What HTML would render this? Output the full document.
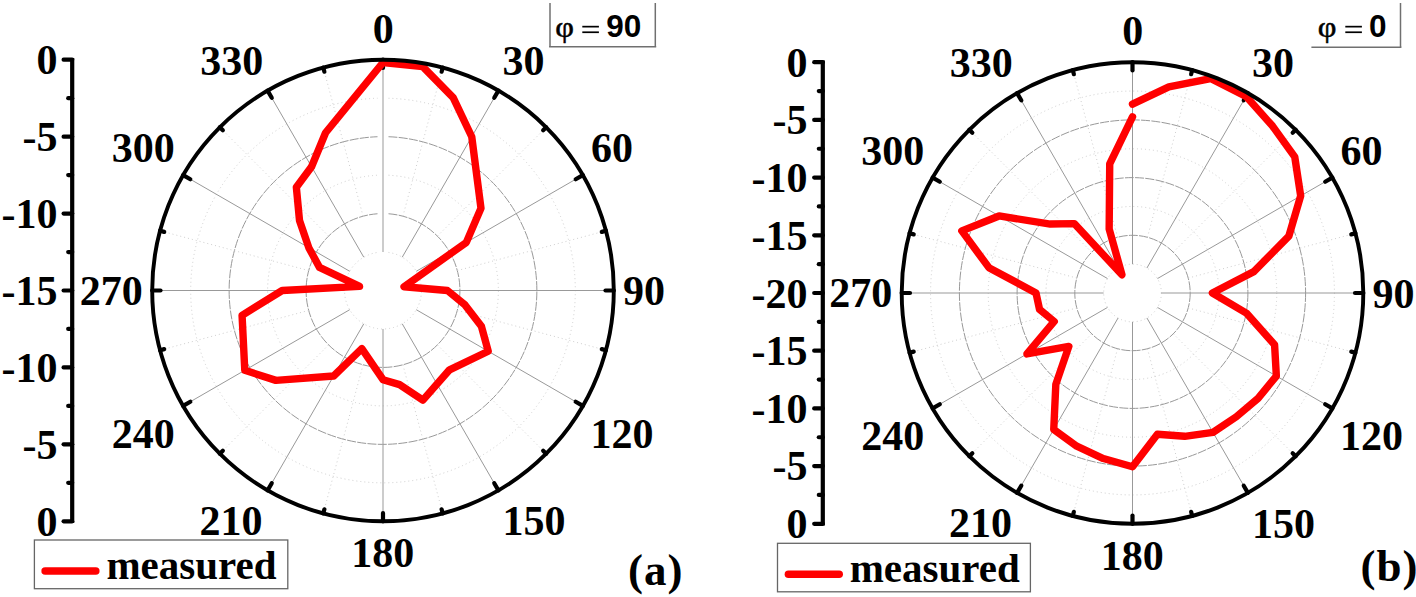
<!DOCTYPE html>
<html><head><meta charset="utf-8"><style>
html,body{margin:0;padding:0;background:#fff;overflow:hidden;width:1416px;height:597px;}
svg{display:block;}
text{font-family:'Liberation Serif',serif;font-weight:bold;fill:#000;}
</style></head><body>
<svg width="1416" height="597" viewBox="0 0 1416 597">
<path d="M388.48,252.43 A38.47,38.47 0 1 1 377.52,252.43" fill="none" stroke="#cfcfcf" stroke-width="1" stroke-dasharray="1 3"/>
<path d="M388.50,175.23 A115.40,115.40 0 1 1 377.50,175.23" fill="none" stroke="#cfcfcf" stroke-width="1" stroke-dasharray="1 3"/>
<path d="M388.50,98.25 A192.33,192.33 0 1 1 377.50,98.25" fill="none" stroke="#cfcfcf" stroke-width="1" stroke-dasharray="1 3"/>
<path d="M388.50,213.76 A76.93,76.93 0 1 1 377.50,213.76" fill="none" stroke="#999" stroke-width="1" stroke-dasharray="9 1.3"/>
<path d="M388.50,136.73 A153.87,153.87 0 1 1 377.50,136.73" fill="none" stroke="#999" stroke-width="1" stroke-dasharray="9 1.3"/>
<line x1="383.00" y1="252.03" x2="383.00" y2="59.70" stroke="#999" stroke-width="1"/>
<line x1="402.91" y1="216.19" x2="442.74" y2="67.56" stroke="#cfcfcf" stroke-width="1" stroke-dasharray="1 3"/>
<line x1="402.23" y1="257.19" x2="498.40" y2="90.62" stroke="#999" stroke-width="1"/>
<line x1="437.40" y1="236.10" x2="546.20" y2="127.30" stroke="#cfcfcf" stroke-width="1" stroke-dasharray="1 3"/>
<line x1="416.31" y1="271.27" x2="582.88" y2="175.10" stroke="#999" stroke-width="1"/>
<line x1="457.31" y1="270.59" x2="605.94" y2="230.76" stroke="#cfcfcf" stroke-width="1" stroke-dasharray="1 3"/>
<line x1="421.47" y1="290.50" x2="613.80" y2="290.50" stroke="#999" stroke-width="1"/>
<line x1="457.31" y1="310.41" x2="605.94" y2="350.24" stroke="#cfcfcf" stroke-width="1" stroke-dasharray="1 3"/>
<line x1="416.31" y1="309.73" x2="582.88" y2="405.90" stroke="#999" stroke-width="1"/>
<line x1="437.40" y1="344.90" x2="546.20" y2="453.70" stroke="#cfcfcf" stroke-width="1" stroke-dasharray="1 3"/>
<line x1="402.23" y1="323.81" x2="498.40" y2="490.38" stroke="#999" stroke-width="1"/>
<line x1="402.91" y1="364.81" x2="442.74" y2="513.44" stroke="#cfcfcf" stroke-width="1" stroke-dasharray="1 3"/>
<line x1="383.00" y1="328.97" x2="383.00" y2="521.30" stroke="#999" stroke-width="1"/>
<line x1="363.09" y1="364.81" x2="323.26" y2="513.44" stroke="#cfcfcf" stroke-width="1" stroke-dasharray="1 3"/>
<line x1="363.77" y1="323.81" x2="267.60" y2="490.38" stroke="#999" stroke-width="1"/>
<line x1="328.60" y1="344.90" x2="219.80" y2="453.70" stroke="#cfcfcf" stroke-width="1" stroke-dasharray="1 3"/>
<line x1="349.69" y1="309.73" x2="183.12" y2="405.90" stroke="#999" stroke-width="1"/>
<line x1="308.69" y1="310.41" x2="160.06" y2="350.24" stroke="#cfcfcf" stroke-width="1" stroke-dasharray="1 3"/>
<line x1="344.53" y1="290.50" x2="152.20" y2="290.50" stroke="#999" stroke-width="1"/>
<line x1="308.69" y1="270.59" x2="160.06" y2="230.76" stroke="#cfcfcf" stroke-width="1" stroke-dasharray="1 3"/>
<line x1="349.69" y1="271.27" x2="183.12" y2="175.10" stroke="#999" stroke-width="1"/>
<line x1="328.60" y1="236.10" x2="219.80" y2="127.30" stroke="#cfcfcf" stroke-width="1" stroke-dasharray="1 3"/>
<line x1="363.77" y1="257.19" x2="267.60" y2="90.62" stroke="#999" stroke-width="1"/>
<line x1="363.09" y1="216.19" x2="323.26" y2="67.56" stroke="#cfcfcf" stroke-width="1" stroke-dasharray="1 3"/>
<line x1="383.00" y1="59.70" x2="383.00" y2="68.00" stroke="#000" stroke-width="4.2" stroke-linecap="round"/>
<line x1="442.74" y1="67.56" x2="441.62" y2="71.72" stroke="#000" stroke-width="4.2" stroke-linecap="round"/>
<line x1="498.40" y1="90.62" x2="494.25" y2="97.81" stroke="#000" stroke-width="4.2" stroke-linecap="round"/>
<line x1="546.20" y1="127.30" x2="543.16" y2="130.34" stroke="#000" stroke-width="4.2" stroke-linecap="round"/>
<line x1="582.88" y1="175.10" x2="575.69" y2="179.25" stroke="#000" stroke-width="4.2" stroke-linecap="round"/>
<line x1="605.94" y1="230.76" x2="601.78" y2="231.88" stroke="#000" stroke-width="4.2" stroke-linecap="round"/>
<line x1="613.80" y1="290.50" x2="605.50" y2="290.50" stroke="#000" stroke-width="4.2" stroke-linecap="round"/>
<line x1="605.94" y1="350.24" x2="601.78" y2="349.12" stroke="#000" stroke-width="4.2" stroke-linecap="round"/>
<line x1="582.88" y1="405.90" x2="575.69" y2="401.75" stroke="#000" stroke-width="4.2" stroke-linecap="round"/>
<line x1="546.20" y1="453.70" x2="543.16" y2="450.66" stroke="#000" stroke-width="4.2" stroke-linecap="round"/>
<line x1="498.40" y1="490.38" x2="494.25" y2="483.19" stroke="#000" stroke-width="4.2" stroke-linecap="round"/>
<line x1="442.74" y1="513.44" x2="441.62" y2="509.28" stroke="#000" stroke-width="4.2" stroke-linecap="round"/>
<line x1="383.00" y1="521.30" x2="383.00" y2="513.00" stroke="#000" stroke-width="4.2" stroke-linecap="round"/>
<line x1="323.26" y1="513.44" x2="324.38" y2="509.28" stroke="#000" stroke-width="4.2" stroke-linecap="round"/>
<line x1="267.60" y1="490.38" x2="271.75" y2="483.19" stroke="#000" stroke-width="4.2" stroke-linecap="round"/>
<line x1="219.80" y1="453.70" x2="222.84" y2="450.66" stroke="#000" stroke-width="4.2" stroke-linecap="round"/>
<line x1="183.12" y1="405.90" x2="190.31" y2="401.75" stroke="#000" stroke-width="4.2" stroke-linecap="round"/>
<line x1="160.06" y1="350.24" x2="164.22" y2="349.12" stroke="#000" stroke-width="4.2" stroke-linecap="round"/>
<line x1="152.20" y1="290.50" x2="160.50" y2="290.50" stroke="#000" stroke-width="4.2" stroke-linecap="round"/>
<line x1="160.06" y1="230.76" x2="164.22" y2="231.88" stroke="#000" stroke-width="4.2" stroke-linecap="round"/>
<line x1="183.12" y1="175.10" x2="190.31" y2="179.25" stroke="#000" stroke-width="4.2" stroke-linecap="round"/>
<line x1="219.80" y1="127.30" x2="222.84" y2="130.34" stroke="#000" stroke-width="4.2" stroke-linecap="round"/>
<line x1="267.60" y1="90.62" x2="271.75" y2="97.81" stroke="#000" stroke-width="4.2" stroke-linecap="round"/>
<line x1="323.26" y1="67.56" x2="324.38" y2="71.72" stroke="#000" stroke-width="4.2" stroke-linecap="round"/>
<polyline points="383.00,62.50 422.50,66.46 453.18,97.68 471.75,136.78 480.98,208.29 466.31,242.40 404.07,286.78 447.40,290.50 465.03,304.96 481.39,326.31 488.22,351.25 449.53,369.79 422.91,400.16 399.60,384.65 383.00,379.70 361.83,348.67 333.65,375.98 275.91,380.36 244.78,370.30 242.07,315.35 282.20,290.50 359.56,286.37 319.48,267.38 308.78,247.65 299.50,220.44 296.35,187.24 311.55,166.74 325.57,132.73 383.00,62.50" fill="none" stroke="#f00" stroke-width="7.4" stroke-linejoin="round" stroke-linecap="round"/>
<circle cx="383.0" cy="290.5" r="230.8" fill="none" stroke="#000" stroke-width="3.9"/>
<text x="372.80" y="42.89" font-size="42" >0</text>
<text x="502.41" y="74.99" font-size="42" >30</text>
<text x="590.93" y="162.49" font-size="42" >60</text>
<text x="623.03" y="305.19" font-size="42" >90</text>
<text x="590.52" y="447.89" font-size="42" >120</text>
<text x="502.52" y="535.39" font-size="42" >150</text>
<text x="351.22" y="567.49" font-size="42" >180</text>
<text x="199.42" y="534.89" font-size="42" >210</text>
<text x="111.77" y="447.89" font-size="42" >240</text>
<text x="79.72" y="304.99" font-size="42" >270</text>
<text x="111.66" y="162.49" font-size="42" >300</text>
<text x="200.16" y="74.99" font-size="42" >330</text>
<circle cx="1132.5" cy="293.0" r="28.85" fill="none" stroke="#cfcfcf" stroke-width="1" stroke-dasharray="1 3"/>
<circle cx="1132.5" cy="293.0" r="86.55" fill="none" stroke="#cfcfcf" stroke-width="1" stroke-dasharray="1 3"/>
<circle cx="1132.5" cy="293.0" r="144.25" fill="none" stroke="#cfcfcf" stroke-width="1" stroke-dasharray="1 3"/>
<circle cx="1132.5" cy="293.0" r="201.95" fill="none" stroke="#cfcfcf" stroke-width="1" stroke-dasharray="1 3"/>
<circle cx="1132.5" cy="293.0" r="57.70" fill="none" stroke="#999" stroke-width="1" stroke-dasharray="9 1.3"/>
<circle cx="1132.5" cy="293.0" r="115.40" fill="none" stroke="#999" stroke-width="1" stroke-dasharray="9 1.3"/>
<circle cx="1132.5" cy="293.0" r="173.10" fill="none" stroke="#999" stroke-width="1" stroke-dasharray="9 1.3"/>
<line x1="1132.50" y1="264.15" x2="1132.50" y2="62.20" stroke="#999" stroke-width="1"/>
<line x1="1147.43" y1="237.27" x2="1192.24" y2="70.06" stroke="#cfcfcf" stroke-width="1" stroke-dasharray="1 3"/>
<line x1="1146.92" y1="268.02" x2="1247.90" y2="93.12" stroke="#999" stroke-width="1"/>
<line x1="1173.30" y1="252.20" x2="1295.70" y2="129.80" stroke="#cfcfcf" stroke-width="1" stroke-dasharray="1 3"/>
<line x1="1157.48" y1="278.57" x2="1332.38" y2="177.60" stroke="#999" stroke-width="1"/>
<line x1="1188.23" y1="278.07" x2="1355.44" y2="233.26" stroke="#cfcfcf" stroke-width="1" stroke-dasharray="1 3"/>
<line x1="1161.35" y1="293.00" x2="1363.30" y2="293.00" stroke="#999" stroke-width="1"/>
<line x1="1188.23" y1="307.93" x2="1355.44" y2="352.74" stroke="#cfcfcf" stroke-width="1" stroke-dasharray="1 3"/>
<line x1="1157.48" y1="307.43" x2="1332.38" y2="408.40" stroke="#999" stroke-width="1"/>
<line x1="1173.30" y1="333.80" x2="1295.70" y2="456.20" stroke="#cfcfcf" stroke-width="1" stroke-dasharray="1 3"/>
<line x1="1146.92" y1="317.98" x2="1247.90" y2="492.88" stroke="#999" stroke-width="1"/>
<line x1="1147.43" y1="348.73" x2="1192.24" y2="515.94" stroke="#cfcfcf" stroke-width="1" stroke-dasharray="1 3"/>
<line x1="1132.50" y1="321.85" x2="1132.50" y2="523.80" stroke="#999" stroke-width="1"/>
<line x1="1117.57" y1="348.73" x2="1072.76" y2="515.94" stroke="#cfcfcf" stroke-width="1" stroke-dasharray="1 3"/>
<line x1="1118.08" y1="317.98" x2="1017.10" y2="492.88" stroke="#999" stroke-width="1"/>
<line x1="1091.70" y1="333.80" x2="969.30" y2="456.20" stroke="#cfcfcf" stroke-width="1" stroke-dasharray="1 3"/>
<line x1="1107.52" y1="307.43" x2="932.62" y2="408.40" stroke="#999" stroke-width="1"/>
<line x1="1076.77" y1="307.93" x2="909.56" y2="352.74" stroke="#cfcfcf" stroke-width="1" stroke-dasharray="1 3"/>
<line x1="1103.65" y1="293.00" x2="901.70" y2="293.00" stroke="#999" stroke-width="1"/>
<line x1="1076.77" y1="278.07" x2="909.56" y2="233.26" stroke="#cfcfcf" stroke-width="1" stroke-dasharray="1 3"/>
<line x1="1107.52" y1="278.57" x2="932.62" y2="177.60" stroke="#999" stroke-width="1"/>
<line x1="1091.70" y1="252.20" x2="969.30" y2="129.80" stroke="#cfcfcf" stroke-width="1" stroke-dasharray="1 3"/>
<line x1="1118.08" y1="268.02" x2="1017.10" y2="93.12" stroke="#999" stroke-width="1"/>
<line x1="1117.57" y1="237.27" x2="1072.76" y2="70.06" stroke="#cfcfcf" stroke-width="1" stroke-dasharray="1 3"/>
<line x1="1132.50" y1="62.20" x2="1132.50" y2="70.50" stroke="#000" stroke-width="4.2" stroke-linecap="round"/>
<line x1="1192.24" y1="70.06" x2="1191.12" y2="74.22" stroke="#000" stroke-width="4.2" stroke-linecap="round"/>
<line x1="1247.90" y1="93.12" x2="1243.75" y2="100.31" stroke="#000" stroke-width="4.2" stroke-linecap="round"/>
<line x1="1295.70" y1="129.80" x2="1292.66" y2="132.84" stroke="#000" stroke-width="4.2" stroke-linecap="round"/>
<line x1="1332.38" y1="177.60" x2="1325.19" y2="181.75" stroke="#000" stroke-width="4.2" stroke-linecap="round"/>
<line x1="1355.44" y1="233.26" x2="1351.28" y2="234.38" stroke="#000" stroke-width="4.2" stroke-linecap="round"/>
<line x1="1363.30" y1="293.00" x2="1355.00" y2="293.00" stroke="#000" stroke-width="4.2" stroke-linecap="round"/>
<line x1="1355.44" y1="352.74" x2="1351.28" y2="351.62" stroke="#000" stroke-width="4.2" stroke-linecap="round"/>
<line x1="1332.38" y1="408.40" x2="1325.19" y2="404.25" stroke="#000" stroke-width="4.2" stroke-linecap="round"/>
<line x1="1295.70" y1="456.20" x2="1292.66" y2="453.16" stroke="#000" stroke-width="4.2" stroke-linecap="round"/>
<line x1="1247.90" y1="492.88" x2="1243.75" y2="485.69" stroke="#000" stroke-width="4.2" stroke-linecap="round"/>
<line x1="1192.24" y1="515.94" x2="1191.12" y2="511.78" stroke="#000" stroke-width="4.2" stroke-linecap="round"/>
<line x1="1132.50" y1="523.80" x2="1132.50" y2="515.50" stroke="#000" stroke-width="4.2" stroke-linecap="round"/>
<line x1="1072.76" y1="515.94" x2="1073.88" y2="511.78" stroke="#000" stroke-width="4.2" stroke-linecap="round"/>
<line x1="1017.10" y1="492.88" x2="1021.25" y2="485.69" stroke="#000" stroke-width="4.2" stroke-linecap="round"/>
<line x1="969.30" y1="456.20" x2="972.34" y2="453.16" stroke="#000" stroke-width="4.2" stroke-linecap="round"/>
<line x1="932.62" y1="408.40" x2="939.81" y2="404.25" stroke="#000" stroke-width="4.2" stroke-linecap="round"/>
<line x1="909.56" y1="352.74" x2="913.72" y2="351.62" stroke="#000" stroke-width="4.2" stroke-linecap="round"/>
<line x1="901.70" y1="293.00" x2="910.00" y2="293.00" stroke="#000" stroke-width="4.2" stroke-linecap="round"/>
<line x1="909.56" y1="233.26" x2="913.72" y2="234.38" stroke="#000" stroke-width="4.2" stroke-linecap="round"/>
<line x1="932.62" y1="177.60" x2="939.81" y2="181.75" stroke="#000" stroke-width="4.2" stroke-linecap="round"/>
<line x1="969.30" y1="129.80" x2="972.34" y2="132.84" stroke="#000" stroke-width="4.2" stroke-linecap="round"/>
<line x1="1017.10" y1="93.12" x2="1021.25" y2="100.31" stroke="#000" stroke-width="4.2" stroke-linecap="round"/>
<line x1="1072.76" y1="70.06" x2="1073.88" y2="74.22" stroke="#000" stroke-width="4.2" stroke-linecap="round"/>
<polyline points="1132.50,104.10 1168.84,86.88 1210.55,78.56 1246.05,96.33 1272.56,126.08 1294.75,156.86 1300.68,195.90 1288.86,236.09 1253.83,271.61 1212.40,293.00 1246.34,313.07 1274.58,344.71 1276.35,376.05 1258.05,398.35 1236.31,416.72 1213.00,432.43 1184.66,436.30 1157.40,434.22 1132.50,466.80 1103.31,458.55 1076.75,446.17 1053.75,429.40 1055.82,384.39 1068.84,346.42 1026.93,353.95 1054.22,321.49 1039.53,309.39 1036.00,293.00 988.92,267.68 961.85,230.89 999.05,215.95 1050.30,224.03 1074.26,223.60 1121.95,274.73 1109.17,228.91 1109.72,163.79 1132.50,116.90" fill="none" stroke="#f00" stroke-width="7.4" stroke-linejoin="round" stroke-linecap="round"/>
<circle cx="1132.5" cy="293.0" r="230.8" fill="none" stroke="#000" stroke-width="3.9"/>
<text x="1122.30" y="45.39" font-size="42" >0</text>
<text x="1251.91" y="77.49" font-size="42" >30</text>
<text x="1340.43" y="164.99" font-size="42" >60</text>
<text x="1372.53" y="307.69" font-size="42" >90</text>
<text x="1340.02" y="450.39" font-size="42" >120</text>
<text x="1252.02" y="537.89" font-size="42" >150</text>
<text x="1100.72" y="569.99" font-size="42" >180</text>
<text x="948.92" y="537.39" font-size="42" >210</text>
<text x="861.27" y="450.39" font-size="42" >240</text>
<text x="829.22" y="307.49" font-size="42" >270</text>
<text x="861.16" y="164.99" font-size="42" >300</text>
<text x="949.66" y="77.49" font-size="42" >330</text>
<line x1="72.2" y1="57.90" x2="72.2" y2="523.10" stroke="#000" stroke-width="4.2"/>
<line x1="72.2" y1="59.70" x2="63.60" y2="59.70" stroke="#000" stroke-width="4.2" stroke-linecap="round"/>
<line x1="72.2" y1="98.17" x2="68.20" y2="98.17" stroke="#000" stroke-width="4.2" stroke-linecap="round"/>
<text x="36.60" y="74.26" font-size="42">0</text>
<line x1="72.2" y1="136.63" x2="63.60" y2="136.63" stroke="#000" stroke-width="4.2" stroke-linecap="round"/>
<line x1="72.2" y1="175.10" x2="68.20" y2="175.10" stroke="#000" stroke-width="4.2" stroke-linecap="round"/>
<text x="22.55" y="150.98" font-size="42">-5</text>
<line x1="72.2" y1="213.57" x2="63.60" y2="213.57" stroke="#000" stroke-width="4.2" stroke-linecap="round"/>
<line x1="72.2" y1="252.03" x2="68.20" y2="252.03" stroke="#000" stroke-width="4.2" stroke-linecap="round"/>
<text x="1.61" y="228.13" font-size="42">-10</text>
<line x1="72.2" y1="290.50" x2="63.60" y2="290.50" stroke="#000" stroke-width="4.2" stroke-linecap="round"/>
<line x1="72.2" y1="328.97" x2="68.20" y2="328.97" stroke="#000" stroke-width="4.2" stroke-linecap="round"/>
<text x="1.55" y="304.96" font-size="42">-15</text>
<line x1="72.2" y1="367.43" x2="63.60" y2="367.43" stroke="#000" stroke-width="4.2" stroke-linecap="round"/>
<line x1="72.2" y1="405.90" x2="68.20" y2="405.90" stroke="#000" stroke-width="4.2" stroke-linecap="round"/>
<text x="1.61" y="381.99" font-size="42">-10</text>
<line x1="72.2" y1="444.37" x2="63.60" y2="444.37" stroke="#000" stroke-width="4.2" stroke-linecap="round"/>
<line x1="72.2" y1="482.83" x2="68.20" y2="482.83" stroke="#000" stroke-width="4.2" stroke-linecap="round"/>
<text x="22.55" y="458.71" font-size="42">-5</text>
<line x1="72.2" y1="521.30" x2="63.60" y2="521.30" stroke="#000" stroke-width="4.2" stroke-linecap="round"/>
<text x="36.60" y="535.86" font-size="42">0</text>
<line x1="822.8" y1="60.40" x2="822.8" y2="525.60" stroke="#000" stroke-width="4.2"/>
<line x1="822.8" y1="62.20" x2="814.20" y2="62.20" stroke="#000" stroke-width="4.2" stroke-linecap="round"/>
<line x1="822.8" y1="91.05" x2="818.80" y2="91.05" stroke="#000" stroke-width="4.2" stroke-linecap="round"/>
<text x="786.60" y="76.76" font-size="42">0</text>
<line x1="822.8" y1="119.90" x2="814.20" y2="119.90" stroke="#000" stroke-width="4.2" stroke-linecap="round"/>
<line x1="822.8" y1="148.75" x2="818.80" y2="148.75" stroke="#000" stroke-width="4.2" stroke-linecap="round"/>
<text x="772.55" y="134.25" font-size="42">-5</text>
<line x1="822.8" y1="177.60" x2="814.20" y2="177.60" stroke="#000" stroke-width="4.2" stroke-linecap="round"/>
<line x1="822.8" y1="206.45" x2="818.80" y2="206.45" stroke="#000" stroke-width="4.2" stroke-linecap="round"/>
<text x="751.61" y="192.16" font-size="42">-10</text>
<line x1="822.8" y1="235.30" x2="814.20" y2="235.30" stroke="#000" stroke-width="4.2" stroke-linecap="round"/>
<line x1="822.8" y1="264.15" x2="818.80" y2="264.15" stroke="#000" stroke-width="4.2" stroke-linecap="round"/>
<text x="751.55" y="249.76" font-size="42">-15</text>
<line x1="822.8" y1="293.00" x2="814.20" y2="293.00" stroke="#000" stroke-width="4.2" stroke-linecap="round"/>
<line x1="822.8" y1="321.85" x2="818.80" y2="321.85" stroke="#000" stroke-width="4.2" stroke-linecap="round"/>
<text x="751.61" y="307.56" font-size="42">-20</text>
<line x1="822.8" y1="350.70" x2="814.20" y2="350.70" stroke="#000" stroke-width="4.2" stroke-linecap="round"/>
<line x1="822.8" y1="379.55" x2="818.80" y2="379.55" stroke="#000" stroke-width="4.2" stroke-linecap="round"/>
<text x="751.55" y="365.16" font-size="42">-15</text>
<line x1="822.8" y1="408.40" x2="814.20" y2="408.40" stroke="#000" stroke-width="4.2" stroke-linecap="round"/>
<line x1="822.8" y1="437.25" x2="818.80" y2="437.25" stroke="#000" stroke-width="4.2" stroke-linecap="round"/>
<text x="751.61" y="422.96" font-size="42">-10</text>
<line x1="822.8" y1="466.10" x2="814.20" y2="466.10" stroke="#000" stroke-width="4.2" stroke-linecap="round"/>
<line x1="822.8" y1="494.95" x2="818.80" y2="494.95" stroke="#000" stroke-width="4.2" stroke-linecap="round"/>
<text x="772.55" y="480.45" font-size="42">-5</text>
<line x1="822.8" y1="523.80" x2="814.20" y2="523.80" stroke="#000" stroke-width="4.2" stroke-linecap="round"/>
<text x="786.60" y="538.36" font-size="42">0</text>
<rect x="34.4" y="540" width="253.4" height="48.700000000000045" fill="#fff" stroke="#666" stroke-width="1.3"/>
<line x1="45.1" y1="571" x2="95.8" y2="571" stroke="#f00" stroke-width="7.5" stroke-linecap="round"/>
<text x="106.40" y="578.6" font-size="41">measured</text>
<rect x="777.5" y="543.3" width="252.9000000000001" height="48.5" fill="#fff" stroke="#666" stroke-width="1.3"/>
<line x1="788.4" y1="574.2" x2="839.2" y2="574.2" stroke="#f00" stroke-width="7.5" stroke-linecap="round"/>
<text x="849.70" y="581.8" font-size="41">measured</text>
<line x1="550" y1="3" x2="550" y2="46.8" stroke="#707070" stroke-width="1.5"/>
<line x1="655.3" y1="3" x2="655.3" y2="46.8" stroke="#707070" stroke-width="1.5"/>
<line x1="549.1" y1="46.8" x2="656.1999999999999" y2="46.8" stroke="#707070" stroke-width="1.5"/>
<text transform="translate(555.15,37.4) scale(1.08,1)" x="0" y="0" font-size="30" stroke="#000" stroke-width="0.5" style="font-family:'Liberation Serif',serif;font-weight:normal">φ</text>
<rect x="582.30" y="25.8" width="16.6" height="1.7" fill="#000"/>
<rect x="582.30" y="31.4" width="16.6" height="1.7" fill="#000"/>
<text x="606.28" y="37.4" font-size="31.5" style="font-family:'Liberation Sans',sans-serif;font-weight:bold">90</text>
<line x1="1400.5" y1="3" x2="1400.5" y2="47.2" stroke="#707070" stroke-width="1.5"/>
<line x1="1311.3999999999999" y1="47.2" x2="1401.4" y2="47.2" stroke="#707070" stroke-width="1.5"/>
<text transform="translate(1317.75,37.4) scale(1.08,1)" x="0" y="0" font-size="30" stroke="#000" stroke-width="0.5" style="font-family:'Liberation Serif',serif;font-weight:normal">φ</text>
<rect x="1345.30" y="25.8" width="16.6" height="1.7" fill="#000"/>
<rect x="1345.30" y="31.4" width="16.6" height="1.7" fill="#000"/>
<text x="1368.96" y="37.4" font-size="31.5" style="font-family:'Liberation Sans',sans-serif;font-weight:bold">0</text>
<text x="628.02" y="584.6" font-size="45" letter-spacing="1">(a)</text>
<text x="1360.52" y="581.1" font-size="45" letter-spacing="1">(b)</text>
</svg>
</body></html>
